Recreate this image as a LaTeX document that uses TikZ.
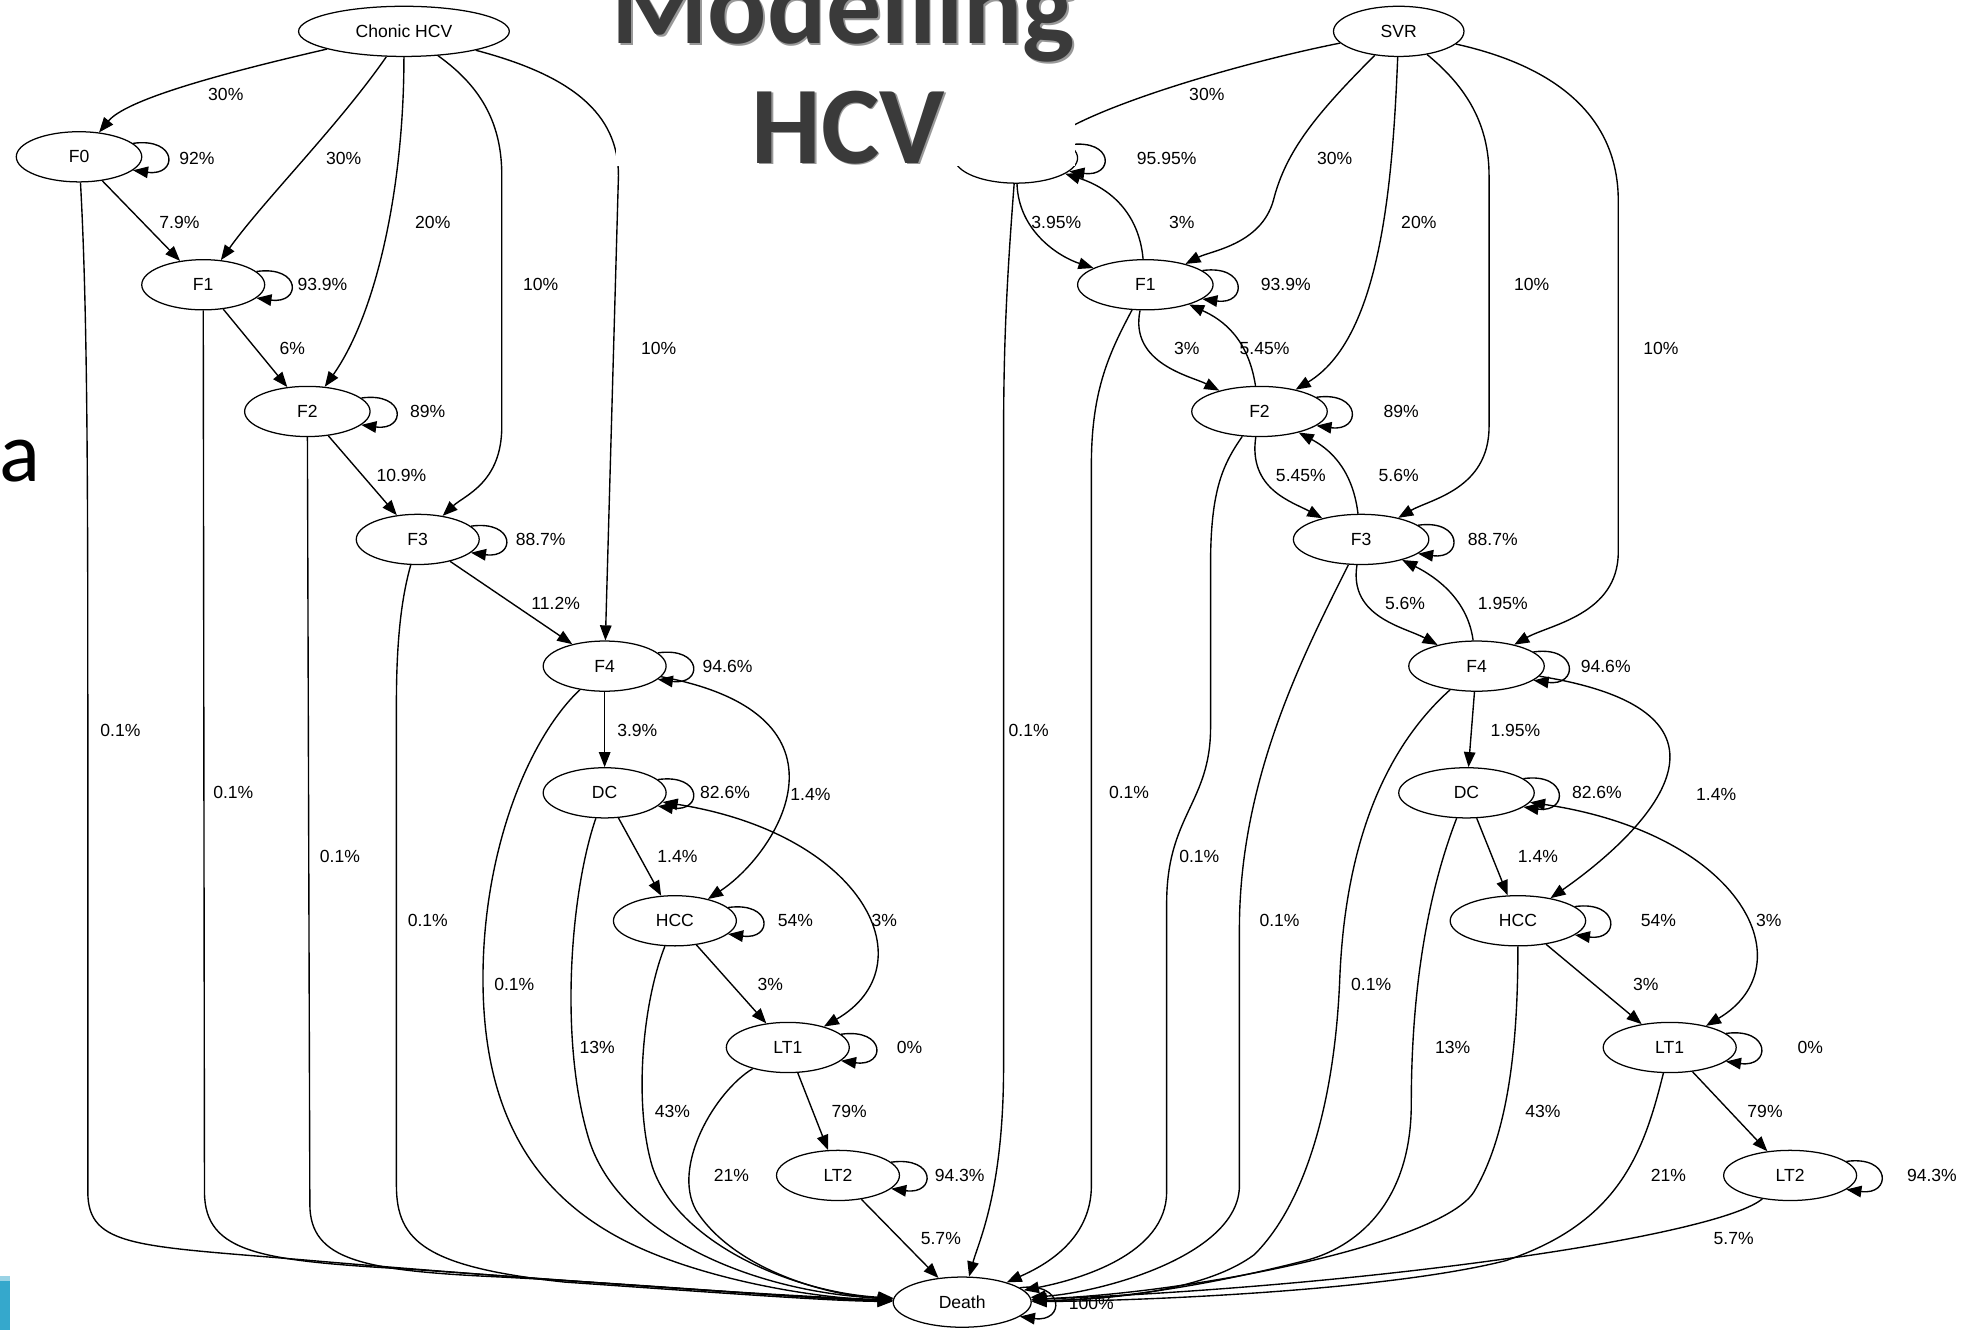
\documentclass[tikz,border=0pt]{standalone}
\usepackage{fontspec}
\setmainfont{Liberation Sans}
\newfontfamily\ttlfont{Carlito}
\usetikzlibrary{arrows.meta,shapes.geometric}
\definecolor{titlegray}{RGB}{58,58,58}
\definecolor{iconblue}{RGB}{53,168,204}
\begin{document}
\begin{tikzpicture}[x=0.5pt,y=-0.5pt,
  every node/.style={font=\fontsize{7}{8}\selectfont},
  stt/.style={ellipse,draw,line width=0.5pt,minimum height=20pt,inner sep=0pt,minimum width=#1},
  stt/.default=49pt,
  ar/.style={line width=0.55pt,-{Triangle[length=6pt,width=4.6pt]}},
  arb/.style={line width=0.55pt,{Triangle[length=6pt,width=4.6pt]}-{Triangle[length=6pt,width=4.6pt]}},
  lb/.style={inner sep=0pt}]
\useasboundingbox (0,0) rectangle (1568,1060);

% ---------- left graph nodes ----------
\node[stt=84pt] (CH) at (322,25) {Chonic HCV};
\node[stt=50pt] (F0) at (63,125) {F0};
\node[stt] (F1) at (162,227) {F1};
\node[stt=50pt] (F2) at (245,328) {F2};
\node[stt] (F3) at (333,430) {F3};
\node[stt] (F4) at (482,531) {F4};
\node[stt] (DC) at (482,632) {DC};
\node[stt] (HCC) at (538,734) {HCC};
\node[stt] (LT1) at (628,835) {LT1};
\node[stt] (LT2) at (668,937) {LT2};
\node[stt=55pt] (D) at (767,1038) {Death};

% ---------- right graph nodes ----------
\node[stt=52pt] (SVR) at (1115,25) {SVR};
\node[stt] (G0) at (810,126) {};
\node[stt=54pt] (G1) at (913,227) {F1};
\node[stt=54pt] (G2) at (1004,328) {F2};
\node[stt=54pt] (G3) at (1085,430) {F3};
\node[stt=54pt] (G4) at (1177,531) {F4};
\node[stt=54pt] (GD) at (1169,632) {DC};
\node[stt=54pt] (GH) at (1210,734) {HCC};
\node[stt=53pt] (GL1) at (1331,835) {LT1};
\node[stt=53pt] (GL2) at (1427,937) {LT2};

% ---------- self loops ----------
\foreach \n in {F0,F1,F2,F3,F4,DC,HCC,LT1,LT2,D,G0,G1,G2,G3,G4,GD,GH,GL1,GL2}
  \draw[ar] (\n.14) .. controls +(36,-5) and +(36,5) .. (\n.-14);

% ---------- left edges ----------
\draw[ar] (CH) .. controls (170,60) and (100,80) .. (F0);
\draw[ar] (CH) .. controls (270,100) and (210,160) .. (F1);
\draw[ar] (CH) .. controls (322,150) and (300,250) .. (F2);
\draw[ar] (CH) .. controls (385,70) and (400,100) .. (400,140) -- (400,340) .. controls (400,385) and (370,395) .. (F3);
\draw[ar] (CH) .. controls (455,60) and (493,90) .. (493,140) -- (F4);
\draw[ar] (F0) -- (F1);
\draw[ar] (F1) -- (F2);
\draw[ar] (F2) -- (F3);
\draw[ar] (F3) -- (F4);
\draw[ar] (F4) -- (DC);
\draw[ar] (DC) -- (HCC);
\draw[ar] (HCC) -- (LT1);
\draw[ar] (LT1) -- (LT2);
\draw[ar] (LT2) -- (D);
\draw[ar] (F4) .. controls (690,570) and (620,680) .. (HCC);
\draw[arb] (DC) .. controls (690,665) and (740,770) .. (LT1);
\draw[ar] (F0) .. controls (70,250) and (70,400) .. (70,600) -- (70,950) .. controls (70,995) and (110,993) .. (250,1005) .. controls (450,1022) and (640,1034) .. (D);
\draw[ar] (F1) -- (163,950) .. controls (163,1000) and (210,1005) .. (330,1012) .. controls (500,1024) and (640,1035) .. (D);
\draw[ar] (F2) -- (247,960) .. controls (247,1005) and (290,1013) .. (400,1018) .. controls (550,1026) and (650,1036) .. (D);
\draw[ar] (F3) .. controls (322,470) and (316,500) .. (316,560) -- (316,945) .. controls (316,990) and (340,1010) .. (450,1022) .. controls (580,1031) and (660,1037) .. (D);
\draw[ar] (F4) .. controls (420,590) and (385,680) .. (385,780) .. controls (385,880) and (420,950) .. (500,990) .. controls (560,1020) and (650,1035) .. (D);
\draw[ar] (DC) .. controls (455,710) and (445,830) .. (470,910) .. controls (495,985) and (600,1030) .. (D);
\draw[ar] (HCC) .. controls (512,800) and (505,880) .. (520,930) .. controls (540,990) and (630,1030) .. (D);
\draw[ar] (LT1) .. controls (570,870) and (535,930) .. (555,965) .. controls (585,1012) and (660,1033) .. (D);

% ---------- right edges ----------
\draw[ar] (SVR) .. controls (990,50) and (890,80) .. (G0);
\draw[ar] (SVR) .. controls (1050,90) and (1025,120) .. (1015,160) .. controls (1005,195) and (965,200) .. (G1);
\draw[ar] (SVR) .. controls (1110,150) and (1100,270) .. (G2);
\draw[ar] (SVR) .. controls (1170,70) and (1187,100) .. (1187,140) -- (1187,340) .. controls (1187,390) and (1140,398) .. (G3);
\draw[ar] (SVR) .. controls (1250,55) and (1290,100) .. (1290,160) -- (1290,440) .. controls (1290,490) and (1235,498) .. (G4);
\draw[ar] (G0) .. controls (812,185) and (845,205) .. (G1);
\draw[ar] (G1) .. controls (908,170) and (885,150) .. (G0);
\draw[ar] (G1) .. controls (900,290) and (950,300) .. (G2);
\draw[ar] (G2) .. controls (995,270) and (975,255) .. (G1);
\draw[ar] (G2) .. controls (995,390) and (1030,400) .. (G3);
\draw[ar] (G3) .. controls (1078,372) and (1058,357) .. (G2);
\draw[ar] (G3) .. controls (1075,492) and (1120,500) .. (G4);
\draw[ar] (G4) .. controls (1170,478) and (1145,460) .. (G3);
\draw[ar] (G4) -- (GD);
\draw[ar] (GD) -- (GH);
\draw[ar] (GH) -- (GL1);
\draw[ar] (GL1) -- (GL2);
\draw[ar] (G4) .. controls (1420,570) and (1295,675) .. (GH);
\draw[arb] (GD) .. controls (1390,665) and (1440,770) .. (GL1);
\draw[ar] (G0) .. controls (802,230) and (800,280) .. (800,350) -- (800,850) .. controls (800,950) and (780,990) .. (D);
\draw[ar] (G1) .. controls (885,280) and (870,310) .. (870,370) -- (870,945) .. controls (870,990) and (830,1010) .. (D);
\draw[ar] (G2) .. controls (975,370) and (965,390) .. (965,450) -- (965,580) .. controls (965,640) and (930,650) .. (930,720) -- (930,950) .. controls (930,1000) and (860,1020) .. (D);
\draw[ar] (G3) .. controls (1040,520) and (988,620) .. (988,740) -- (988,945) .. controls (988,1000) and (880,1030) .. (D);
\draw[ar] (G4) .. controls (1100,600) and (1072,680) .. (1068,780) .. controls (1064,880) and (1040,960) .. (1000,1000) .. controls (960,1030) and (880,1036) .. (D);
\draw[ar] (GD) .. controls (1135,720) and (1125,800) .. (1125,880) .. controls (1125,960) and (1080,995) .. (1040,1005) .. controls (950,1028) and (880,1036) .. (D);
\draw[ar] (GH) .. controls (1210,820) and (1205,900) .. (1175,950) .. controls (1150,990) and (960,1030) .. (D);
\draw[ar] (GL1) .. controls (1310,920) and (1290,975) .. (1200,1005) .. controls (1100,1030) and (900,1037) .. (D);
\draw[ar] (GL2) .. controls (1370,985) and (1100,1025) .. (D);

% ---------- edge labels ----------
\foreach \x/\y/\t [count=\i] in {
  180/75/30\%, 157/126/92\%, 274/126/30\%, 143/177/7.9\%, 345/177/20\%,
  257/227/93.9\%, 431/227/10\%, 233/278/6\%, 525/278/10\%, 341/328/89\%,
  320/379/10.9\%, 431/430/88.7\%, 443/481/11.2\%, 580/531/94.6\%, 96/582/0.1\%,
  508/582/3.9\%, 186/632/0.1\%, 578/632/82.6\%, 646/633/1.4\%, 271/683/0.1\%,
  540/683/1.4\%, 341/734/0.1\%, 634/734/54\%, 705/734/3\%, 410/785/0.1\%,
  614/785/3\%, 476/835/13\%, 725/835/0\%, 536/886/43\%, 677/886/79\%,
  583/937/21\%, 765/937/94.3\%, 750/987/5.7\%, 870/1039/100\%,
  962/75/30\%, 930/126/95.95\%, 1064/126/30\%, 842/177/3.95\%, 942/177/3\%,
  1131/177/20\%, 1025/227/93.9\%, 1221/227/10\%, 946/278/3\%, 1008/278/5.45\%,
  1324/278/10\%, 1117/328/89\%, 1037/379/5.45\%, 1115/379/5.6\%, 1190/430/88.7\%,
  1120/481/5.6\%, 1198/481/1.95\%, 1280/531/94.6\%, 820/582/0.1\%, 1208/582/1.95\%,
  900/632/0.1\%, 1273/632/82.6\%, 1368/633/1.4\%, 956/683/0.1\%, 1226/683/1.4\%,
  1020/734/0.1\%, 1322/734/54\%, 1410/734/3\%, 1093/785/0.1\%, 1312/785/3\%,
  1158/835/13\%, 1443/835/0\%, 1230/886/43\%, 1407/886/79\%, 1330/937/21\%,
  1540/937/94.3\%, 1382/987/5.7\%}
  \node[lb] (lab\i) at (\x,\y) {\t};

% ---------- slide overlay ----------
\fill[white] (491,0) rectangle (857,132);
\node[font=\ttlfont\bfseries\fontsize{44}{44}\selectfont, text=black!40, anchor=base, inner sep=0pt] (t1s) at (673.5,36.5) {Modelling};
\node[font=\ttlfont\bfseries\fontsize{44}{44}\selectfont, text=titlegray, anchor=base, inner sep=0pt] (t1) at (672,35) {Modelling};
\node[font=\ttlfont\bfseries\fontsize{44}{44}\selectfont, text=black!40, anchor=base, inner sep=0pt] (t2s) at (677.5,131.5) {HCV};
\node[font=\ttlfont\bfseries\fontsize{44}{44}\selectfont, text=titlegray, anchor=base, inner sep=0pt] (t2) at (676,130) {HCV};
\node[font=\ttlfont\fontsize{34}{34}\selectfont, anchor=base west, inner sep=0pt] (abul) at (-1,384) {a};
\fill[iconblue] (0,1017) rectangle (8,1060);
\fill[iconblue!50!white] (0,1017) rectangle (8,1021);
\end{tikzpicture}
\end{document}
